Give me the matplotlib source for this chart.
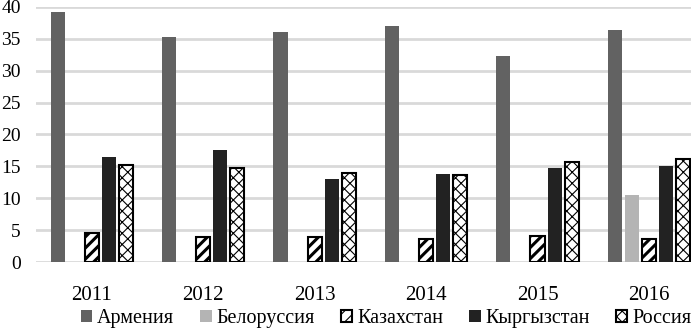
import matplotlib.pyplot as plt
import numpy as np

plt.rcParams['font.family'] = ['Liberation Serif', 'DejaVu Serif']

years = ['2011', '2012', '2013', '2014', '2015', '2016']
countries = ['Армения', 'Белоруссия', 'Казахстан', 'Кыргызстан', 'Россия']
armenia = [39.1, 35.3, 36.1, 37.0, 32.3, 36.4]
belarus = [np.nan, np.nan, np.nan, np.nan, np.nan, 10.5]
kazakhstan = [4.6, 4.0, 4.0, 3.7, 4.1, 3.7]
kyrgyzstan = [16.4, 17.5, 13.1, 13.8, 14.8, 15.1]
russia = [15.2, 14.8, 13.9, 13.6, 15.7, 16.2]

series = [armenia, belarus, kazakhstan, kyrgyzstan, russia]
styles = [
    dict(color='#626262', hatch=None, edgecolor='#626262', lw=0),
    dict(color='#b4b4b4', hatch=None, edgecolor='#b4b4b4', lw=0),
    dict(color='white', hatch='///', edgecolor='black', lw=1.5),
    dict(color='#222222', hatch=None, edgecolor='#222222', lw=0),
    dict(color='white', hatch='xxx', edgecolor='black', lw=1.5),
]
hatch_lw = [1.0, 1.0, 2.2, 1.0, 0.8]

fig = plt.figure(figsize=(6.91, 3.30), dpi=100)
ax = fig.add_axes([0.052, 0.205, 0.948, 0.775])

x = np.arange(len(years))
step = 0.153
width = 0.126
handles = []
for i, (vals, st) in enumerate(zip(series, styles)):
    plt.rcParams['hatch.linewidth'] = hatch_lw[i]
    b = ax.bar(x + (i - 2) * step, vals, width, color=st['color'], hatch=st['hatch'],
               edgecolor=st['edgecolor'], linewidth=st['lw'], label=countries[i], zorder=3)
    handles.append(b)

ax.set_ylim(0, 40)
ax.set_xlim(-0.5, 5.377)
ax.set_yticks(range(0, 41, 5))
ax.set_xticks(x)
ax.set_xticklabels(years)
ax.yaxis.grid(True, color='#d9d9d9', linewidth=2, zorder=0)
ax.set_axisbelow(True)
for s in ax.spines.values():
    s.set_visible(False)
ax.tick_params(axis='both', length=0, colors='black')
ax.tick_params(axis='y', pad=11, labelsize=14)
ax.tick_params(axis='x', pad=17, labelsize=15)

fig.legend(handles=handles, labels=countries, loc='center', ncol=5,
           bbox_to_anchor=(0.559, 0.035), frameon=False, fontsize=14.5,
           handlelength=0.55, handleheight=0.55, handletextpad=0.25, columnspacing=1.3,
           borderpad=0)

fig.savefig('out.png', dpi=100)
